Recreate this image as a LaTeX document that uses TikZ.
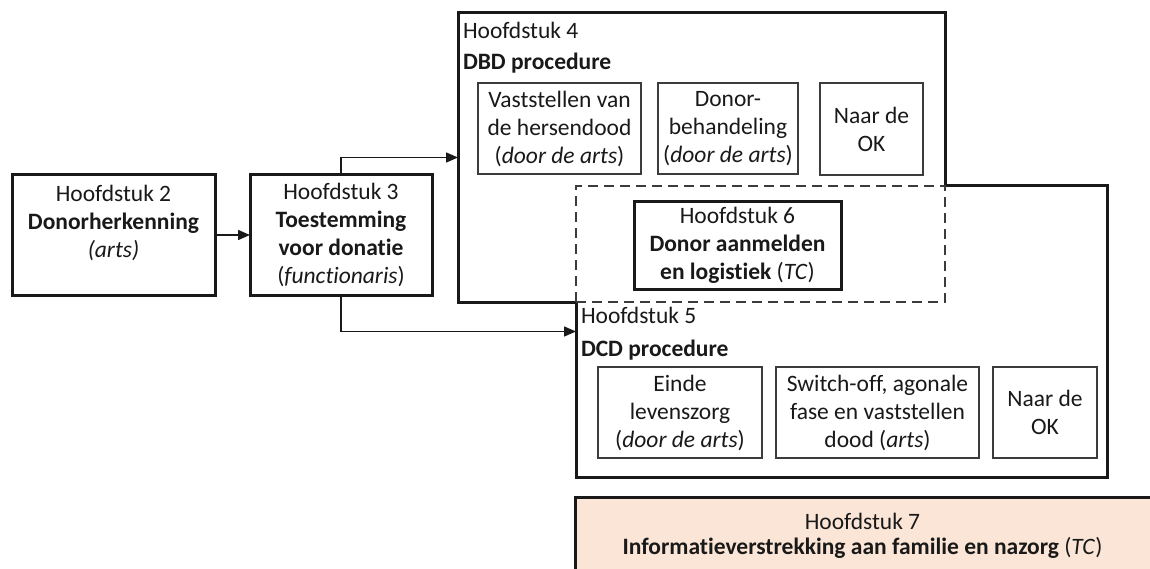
\documentclass[tikz,border=0pt]{standalone}
\usepackage{fontspec}
\setmainfont{Carlito}[Ligatures={NoCommon}]
\usetikzlibrary{arrows.meta}
\definecolor{peach}{RGB}{251,229,214}
\definecolor{ink}{RGB}{25,25,25}
\definecolor{thinline}{RGB}{60,60,60}
\tikzset{
  every node/.style={font=\fontsize{23.5}{28}\selectfont, text=ink, inner sep=0pt, outer sep=0pt},
  thickbox/.style={draw=ink, line width=3pt, fill=white, align=center},
  thinbox/.style={draw=thinline, line width=1.5pt, align=center},
  region/.style={draw=none, minimum width=#1},
  dashzone/.style={draw=thinline, line width=1.5pt, dash pattern=on 10pt off 6pt},
  outline/.style={draw=ink, line width=3pt, line join=miter},
  arr/.style={draw=ink, line width=1.5pt, -{Triangle[length=12pt,width=10pt]}},
  hdr/.style={anchor=base west}
}
\begin{document}
\begin{tikzpicture}[x=1pt,y=-1pt]
\useasboundingbox (0,0) rectangle (1150,569);
\clip (0,0) rectangle (1150,569);
\fill[white] (0,0) rectangle (1150,569);

% regions (invisible frames)
\node[region=487pt, minimum height=289pt] (dbd) at (701.5,157.5) {};
\node[region=531pt, minimum height=291pt] (dcd) at (841.5,331.5) {};

% combined outline of DBD and DCD
\draw[outline] (dbd.north west) -- (dbd.north east) -- (dbd.east |- dcd.north)
  -- (dcd.north east) -- (dcd.south east) -- (dcd.south west)
  -- (dcd.west |- dbd.south) -- (dbd.south west) -- cycle;

% dashed shared zone
\node[dashzone, minimum width=369pt, minimum height=116pt] (zone) at (760.5,244) {};

% chapter 2 and 3
\node[thickbox, minimum width=203pt, minimum height=120pt] (h2) at (113.5,235)
  {Hoofdstuk 2\\\textbf{Donorherkenning}\\\textit{(arts)}\\\mbox{}};
\node[thickbox, minimum width=182pt, minimum height=120pt] (h3) at (341,235)
  {Hoofdstuk 3\\\textbf{Toestemming}\\\textbf{voor donatie}\\(\textit{functionaris})};

% DBD headers
\node[hdr] (h4a) at (463,39) {Hoofdstuk 4};
\node[hdr] (h4b) at (463,70) {\textbf{DBD procedure}};
\node[thinbox, minimum width=163pt, minimum height=91pt] (vast) at (559.5,128.5)
  {Vaststellen van\\de hersendood\\(\textit{door de arts})};
\node[thinbox, minimum width=140pt, minimum height=91pt] (donb) at (728,128.5)
  {Donor-\\behandeling\\(\textit{door de arts})};
\node[thinbox, minimum width=103pt, minimum height=92pt] (ok1) at (871.5,129)
  {Naar de\\OK};

% chapter 6
\node[thickbox, minimum width=207pt, minimum height=87pt] (h6) at (737.5,245.5)
  {Hoofdstuk 6\\\textbf{Donor aanmelden}\\\textbf{en logistiek} (\textit{TC})};

% DCD headers
\node[hdr] (h5a) at (581,323) {Hoofdstuk 5};
\node[hdr] (h5b) at (581,356) {\textbf{DCD procedure}};
\node[thinbox, minimum width=164pt, minimum height=91pt] (einde) at (680,412.5)
  {Einde\\levenszorg\\(\textit{door de arts})};
\node[thinbox, minimum width=203pt, minimum height=91pt] (swo) at (877.5,412.5)
  {Switch-off, agonale\\fase en vaststellen\\dood (\textit{arts})};
\node[thinbox, minimum width=104pt, minimum height=91pt] (ok2) at (1045,412.5)
  {Naar de\\OK};

% chapter 7
\node[draw=ink, line width=3pt, fill=peach, minimum width=590pt, minimum height=93pt] (h7) at (870,543.5) {};
\node[anchor=north, align=center, font=\fontsize{23.5}{25}\selectfont] (h7t) at (862.5,513)
  {Hoofdstuk 7\\\textbf{Informatieverstrekking aan familie en nazorg} (\textit{TC})};

% connectors
\draw[arr] (h2.east) -- (h3.west);
\draw[arr] (h3.north) |- (dbd.west);
\draw[arr] (h3.south) |- (dcd.west);
\end{tikzpicture}
\end{document}
